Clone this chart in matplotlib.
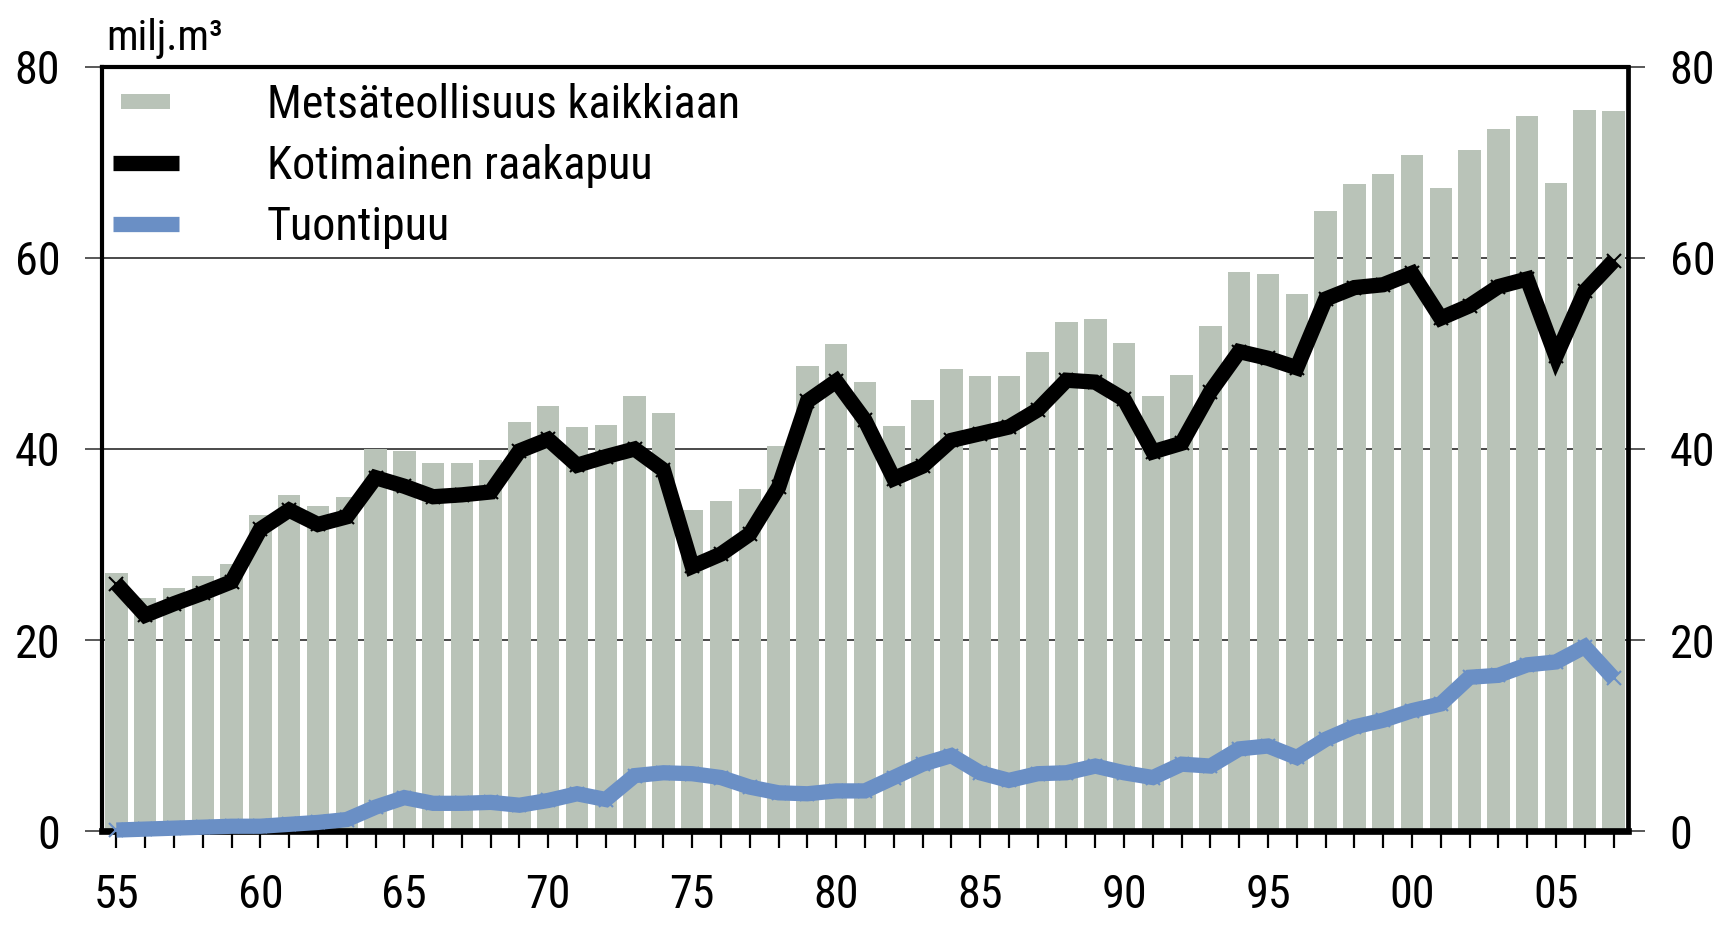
import numpy as np
import matplotlib
matplotlib.use("Agg")
import matplotlib.pyplot as plt
from matplotlib import font_manager
from matplotlib.font_manager import FontProperties
from matplotlib.lines import Line2D
from matplotlib.patches import Rectangle, Patch
from matplotlib.legend_handler import HandlerPatch

# ---------------- data ----------------
years = list(range(1955, 2008))

total_forest_industry = [
    27.0, 24.4, 25.4, 26.7, 28.0, 33.1, 35.2, 34.0, 35.0, 40.0,
    39.8, 38.5, 38.5, 38.8, 42.8, 44.5, 42.3, 42.5, 45.5, 43.8,
    33.6, 34.6, 35.8, 40.3, 48.7, 51.0, 47.0, 42.4, 45.1, 48.4,
    47.6, 47.6, 50.2, 53.3, 53.6, 51.1, 45.5, 47.8, 52.9, 58.5,
    58.3, 56.2, 64.9, 67.7, 68.8, 70.8, 67.3, 71.3, 73.5, 74.9,
    67.8, 75.5, 75.4,
]

domestic_roundwood = [
    25.9, 22.6, 23.8, 24.9, 26.1, 31.6, 33.6, 32.1, 32.9, 37.0,
    36.1, 35.0, 35.2, 35.5, 39.8, 41.0, 38.3, 39.2, 40.0, 37.8,
    27.7, 29.0, 31.1, 36.0, 45.0, 47.1, 43.0, 36.9, 38.2, 40.9,
    41.6, 42.3, 44.1, 47.2, 47.0, 45.2, 39.7, 40.6, 46.0, 50.2,
    49.5, 48.5, 55.7, 56.9, 57.2, 58.4, 53.7, 55.0, 57.0, 57.8,
    49.7, 56.5, 59.7,
]

imported_wood = [
    0.1, 0.2, 0.3, 0.4, 0.5, 0.5, 0.7, 0.9, 1.2, 2.5,
    3.5, 2.9, 2.9, 3.0, 2.7, 3.2, 3.9, 3.3, 5.8, 6.1,
    6.0, 5.6, 4.6, 4.0, 3.9, 4.2, 4.2, 5.6, 7.0, 7.9,
    6.1, 5.3, 6.0, 6.1, 6.8, 6.1, 5.6, 7.0, 6.8, 8.6,
    8.9, 7.7, 9.6, 10.9, 11.6, 12.6, 13.3, 16.1, 16.3, 17.4,
    17.7, 19.3, 16.0,
]

y_ticks = [0, 20, 40, 60, 80]
x_tick_labels = [f"{y % 100:02d}" if y % 5 == 0 else "" for y in years]

legend_labels = ["Metsäteollisuus kaikkiaan", "Kotimainen raakapuu", "Tuontipuu"]
unit_label = "milj.m³"

# ---------------- font selection (prefer a narrow sans) ----------------
def find_narrow_font():
    prefs = ["liberationsansnarrow-regular", "arialn", "arial narrow",
             "robotocondensed-regular", "roboto_condensed-regular",
             "opensans_condensed-regular", "opensanscondensed",
             "notosans-condensed.", "notosans-condensed-regular",
             "dejavusanscondensed."]
    files = [f.fname for f in font_manager.fontManager.ttflist]
    low = [(p.lower().replace(" ", ""), p) for p in files]
    for key in prefs:
        k = key.replace(" ", "")
        for lp, p in low:
            base = lp.rsplit("/", 1)[-1]
            if base.startswith(k):
                return p
    return None

narrow = find_narrow_font()
if narrow:
    base_fp = FontProperties(fname=narrow)
else:
    base_fp = FontProperties(family=["Liberation Sans", "DejaVu Sans"])

BAR_COLOR = "#b9c3b8"
BLUE = "#6a8fc5"
GRID = "#3c3c3c"

fig = plt.figure(figsize=(17.32, 9.25), dpi=100)
fig.patch.set_facecolor("white")
renderer = fig.canvas.get_renderer()


def fit_size(text, target_px, max_size):
    fp = base_fp.copy()
    fp.set_size(max_size)
    t = fig.text(0, 0, text, fontproperties=fp)
    w = t.get_window_extent(renderer).width
    t.remove()
    return min(max_size, max_size * target_px / w)

FS = fit_size(legend_labels[0], 473, 37)
FS_UNIT = fit_size(unit_label, 117, 34)

fp_main = base_fp.copy()
fp_main.set_size(FS)
fp_unit = base_fp.copy()
fp_unit.set_size(FS_UNIT)

ax = fig.add_axes([0.0589, 0.1016, 0.8810, 0.8260])

ax.bar(years, total_forest_industry, width=0.78, color=BAR_COLOR, zorder=2)
ax.plot(years, domestic_roundwood, color="black", lw=11, zorder=5,
        solid_joinstyle="miter", solid_capstyle="butt",
        marker="x", markersize=10, markeredgewidth=1.5, clip_on=False)
ax.plot(years, imported_wood, color=BLUE, lw=11, zorder=4,
        solid_joinstyle="miter", solid_capstyle="butt",
        marker="x", markersize=10, markeredgewidth=1.5, clip_on=False)

ax.set_xlim(1954.5, 2007.5)
ax.set_ylim(0, 80)
ax.set_yticks(y_ticks)
ax.set_xticks(years)
ax.set_xticklabels(x_tick_labels)

ax.yaxis.grid(True, color=GRID, lw=1.3, zorder=0)
ax.set_axisbelow(True)

for side in ["left", "top"]:
    ax.spines[side].set_linewidth(3.0)
    ax.spines[side].set_zorder(3)
ax.spines["right"].set_linewidth(3.4)
ax.spines["right"].set_zorder(3)
ax.spines["bottom"].set_linewidth(4.8)
ax.spines["bottom"].set_zorder(3)

ax.tick_params(axis="y", direction="out", length=12, width=1.2, color=GRID,
               pad=18, left=True, right=True, labelleft=True, labelright=True)
ax.tick_params(axis="x", direction="out", length=12, width=1.6, color="black",
               pad=18)
for t in ax.yaxis.get_major_ticks() + ax.xaxis.get_major_ticks():
    t.label1.set_fontproperties(fp_main)
    t.label2.set_fontproperties(fp_main)


def small_patch(legend, orig_handle, xdescent, ydescent, width, height, fontsize):
    w = width * 0.74
    h = 10.8
    return Rectangle((-xdescent + (width - w) / 2, -ydescent + (height - h) / 2), w, h)


handles = [
    Patch(facecolor=BAR_COLOR, edgecolor="none"),
    Line2D([], [], color="black", lw=11, solid_capstyle="butt"),
    Line2D([], [], color=BLUE, lw=11, solid_capstyle="butt"),
]
# row pitch ~62 px, handle 66 px long, text starts 88 px after handle
text_h_pt = FS * 1.15
ax.legend(handles, legend_labels, loc="upper left", bbox_to_anchor=(0.007, 0.979),
          frameon=False, prop=fp_main, borderaxespad=0, borderpad=0,
          handlelength=47.5 / FS, handletextpad=63.4 / FS,
          labelspacing=max(0.0, (50.6 - text_h_pt) / FS),
          handler_map={Patch: HandlerPatch(patch_func=small_patch)})

fig.text(106 / 1732, 1 - 50 / 925, unit_label, fontproperties=fp_unit,
         ha="left", va="baseline")

fig.savefig("out.png", dpi=100, facecolor="white")
